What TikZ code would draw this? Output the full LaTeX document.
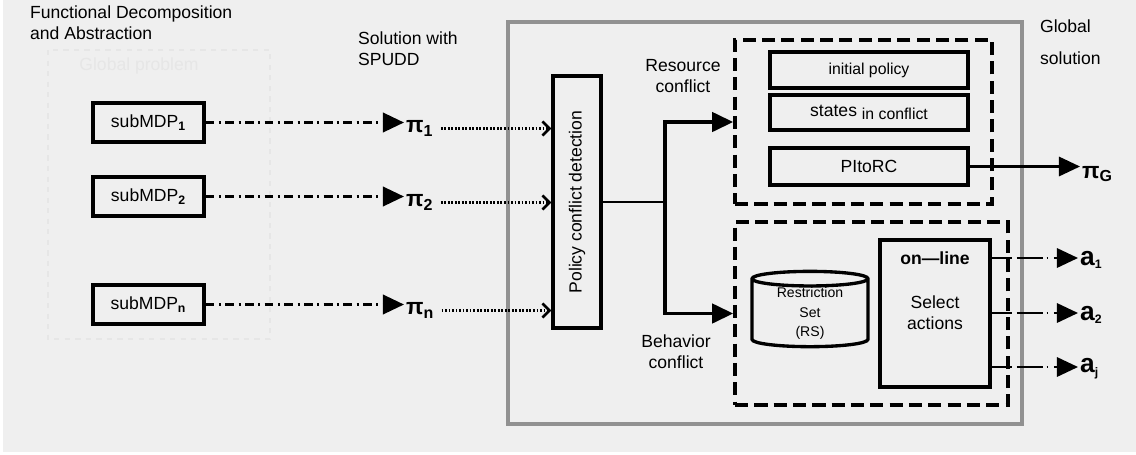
\documentclass[tikz,border=0pt]{standalone}
\usepackage{fontspec}
\setmainfont{Liberation Sans}
\usetikzlibrary{arrows.meta,shapes.geometric}
\definecolor{paper}{RGB}{239,239,239}
\definecolor{faint}{RGB}{230,230,230}
\definecolor{frame}{RGB}{145,145,145}
\begin{document}
\begin{tikzpicture}[x=0.02cm,y=-0.02cm,
    txt/.style={font=\fontsize{10}{12}\selectfont,align=center,inner sep=1pt},
    box/.style={draw,line width=1.9pt,inner sep=0pt,font=\fontsize{10}{12}\selectfont},
    dbox/.style={draw,line width=2.1pt,dash pattern=on 7.5pt off 3.5pt,inner sep=0pt},
    greek/.style={font=\bfseries\fontsize{13}{14}\selectfont,inner sep=1pt,anchor=west},
    ddash/.style={line width=1.6pt,dash pattern=on 5pt off 2.5pt on 1.2pt off 2.5pt},
    dots/.style={line width=1.5pt,dash pattern=on 1pt off 1pt,-{Straight Barb[length=4pt,width=8pt]}},
    bigtip/.style={-{Triangle[length=12pt,width=11pt]}}]
\fill[white] (0,0) rectangle (1136,454);
\fill[paper] (3,0) rectangle (1136,452);
% frame of the global solution
\draw[frame,line width=1.8pt] (508,22) rectangle (1022,424);
% faint global problem
\draw[faint,line width=1.2pt,dashed] (48,50) rectangle (270,339);
\node[txt,text=faint] (global) at (139,66) {Global problem};
\node[txt,align=left,anchor=north west,font=\fontsize{10}{11.5}\selectfont] (title) at (28,4) {Functional Decomposition\\and Abstraction};
\node[txt,align=left,anchor=north west] (spudd) at (356,30) {Solution with\\SPUDD};
\node[txt,align=left,anchor=north west,font=\fontsize{10}{18}\selectfont] (gsol) at (1038,18) {Global\\solution};
% policy conflict detection
\node[box,minimum width=0.96cm,minimum height=5.04cm] (detect) at (577,202) {\rotatebox{90}{Policy conflict detection}};
% sub problems
\foreach \i/\y in {1/122.5,2/196.5,n/304.5} {
  \node[box,minimum width=2.22cm,minimum height=0.78cm] (sub\i) at (148.5,\y) {subMDP\textsubscript{\bfseries\i}};
  \node[greek] (pi\i) at (404,\y+6) {π\textsubscript{\i}};
  \draw[ddash,bigtip] (sub\i) -- (sub\i.east -| pi\i.west);
  \draw[dots,shorten <=3pt] (pi\i.east) -- (pi\i.east -| detect.west);
}
% resource conflict
\node[dbox,minimum width=5.14cm,minimum height=3.28cm] (resbox) at (863.5,122) {};
\node[box,minimum width=3.96cm,minimum height=0.72cm,font=\fontsize{9}{11}\selectfont] (init) at (869,70) {initial policy};
\node[box,minimum width=3.96cm,minimum height=0.7cm] (states) at (869,112.5) {states \raisebox{-2pt}{\fontsize{9}{11}\selectfont in conflict}};
\node[box,minimum width=3.96cm,minimum height=0.74cm] (pitorc) at (869,166.5) {PItoRC};
\node[txt] (reslbl) at (683,76) {Resource\\conflict};
\node[greek] (pig) at (1080,174) {π\textsubscript{G}};
\draw[line width=1.3pt,bigtip] (pitorc.east) -- (pitorc.east -| pig.west);
% behavior conflict
\node[dbox,minimum width=5.46cm,minimum height=3.66cm] (behbox) at (871.5,313.5) {};
\node[txt] (behlbl) at (676,352) {Behavior\\conflict};
\node[draw,line width=1.9pt,cylinder,shape border rotate=90,aspect=0.22,minimum width=2.32cm,minimum height=1.46cm,
  align=center,font=\fontsize{8}{11}\selectfont,inner sep=0pt] (rs) at (810,313.5) {Restriction\\Set\\(RS)};
\node[box,minimum width=2.2cm,minimum height=2.94cm] (online) at (935,313.5) {};
\node[txt,font=\bfseries\fontsize{10}{12}\selectfont] (onl) at (935,258) {on—line};
\node[txt] (sel) at (935,313) {Select\\actions};
\foreach \n/\y in {1/258,2/313,j/367} {
  \node[greek,font=\bfseries\fontsize{15}{16}\selectfont] (a\n) at (1078,\y+2) {a\textsubscript{\fontsize{7}{8}\selectfont\n}};
  \draw[line width=1.3pt] (online.east |- 0,\y) -- (behbox.east |- 0,\y);
  \draw[line width=1.3pt,dash pattern=on 1pt off 3pt on 15pt off 2pt,bigtip] (behbox.east |- 0,\y) -- (a\n.west |- 0,\y);
}
% split to both conflicts
\coordinate (split) at (665,202);
\draw[line width=1.3pt] (detect.east) -- (split);
\draw[line width=2pt,bigtip] (split) |- (resbox.west);
\draw[line width=2pt,bigtip] (split) |- (behbox.west);
\end{tikzpicture}
\end{document}
